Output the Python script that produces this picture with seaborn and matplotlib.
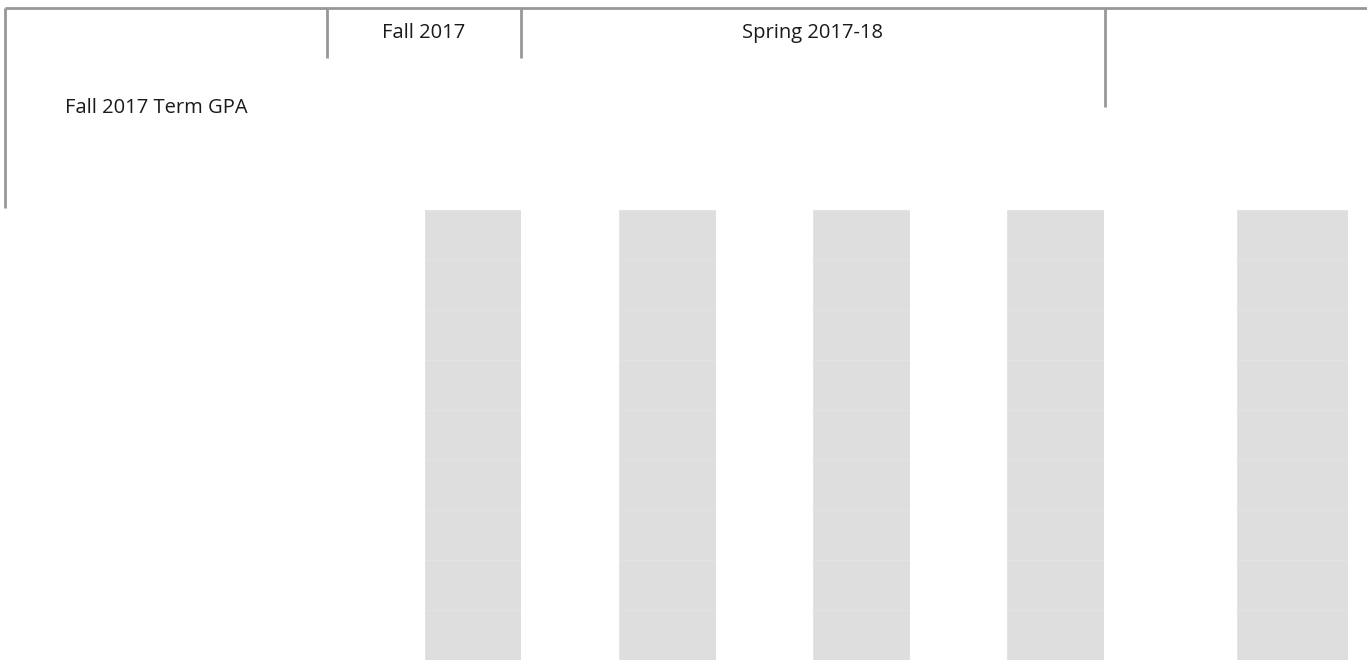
import numpy as np
import seaborn as sns
import matplotlib.pyplot as plt
from matplotlib.colors import ListedColormap

# table structure
terms = ['Fall 2017', 'Spring 2017-18']
row_header = 'Fall 2017 Term GPA'
n_rows = 9
columns = ['c1', 'c2', 'c3', 'c4', 'c5']
# every cell is blank (band shading only)
cells = np.ones((n_rows, len(columns)))

W, H = 1367, 660
# layout in pixels
col_left = [425, 619, 813, 1007, 1237]
col_width = [96, 97, 97, 97, 111]
body_top = 210

sns.set_theme(style='white')
plt.rcParams['font.family'] = ['Open Sans', 'DejaVu Sans']

fig = plt.figure(figsize=(W / 100, H / 100), dpi=100)
ax = fig.add_axes([0, 0, 1, 1])
ax.set_xlim(0, W)
ax.set_ylim(H, 0)
ax.axis('off')

band = ListedColormap(['#dedede'])
for j, (x0, w) in enumerate(zip(col_left, col_width)):
    cax = fig.add_axes([x0 / W, 0, w / W, (H - body_top) / H])
    sns.heatmap(cells[:, [j]], ax=cax, cmap=band, cbar=False,
                linewidths=0.7, linecolor='#e3e3e3',
                xticklabels=False, yticklabels=False)

line_kw = dict(color='#979797', lw=2, solid_capstyle='butt')
ax.plot([5, W], [8, 8], **line_kw)
ax.plot([5, 5], [8, 208], **line_kw)
ax.plot([327, 327], [8, 58], **line_kw)
ax.plot([521, 521], [8, 58], **line_kw)
ax.plot([1105, 1105], [8, 107], **line_kw)

txt_kw = dict(va='center', fontsize=14.5, color='#1a1a1a')
ax.text(424, 33, terms[0], ha='center', **txt_kw)
ax.text(812, 33, terms[1], ha='center', **txt_kw)
ax.text(65, 108, row_header, ha='left', **txt_kw)

fig.savefig('out.png', dpi=100)
